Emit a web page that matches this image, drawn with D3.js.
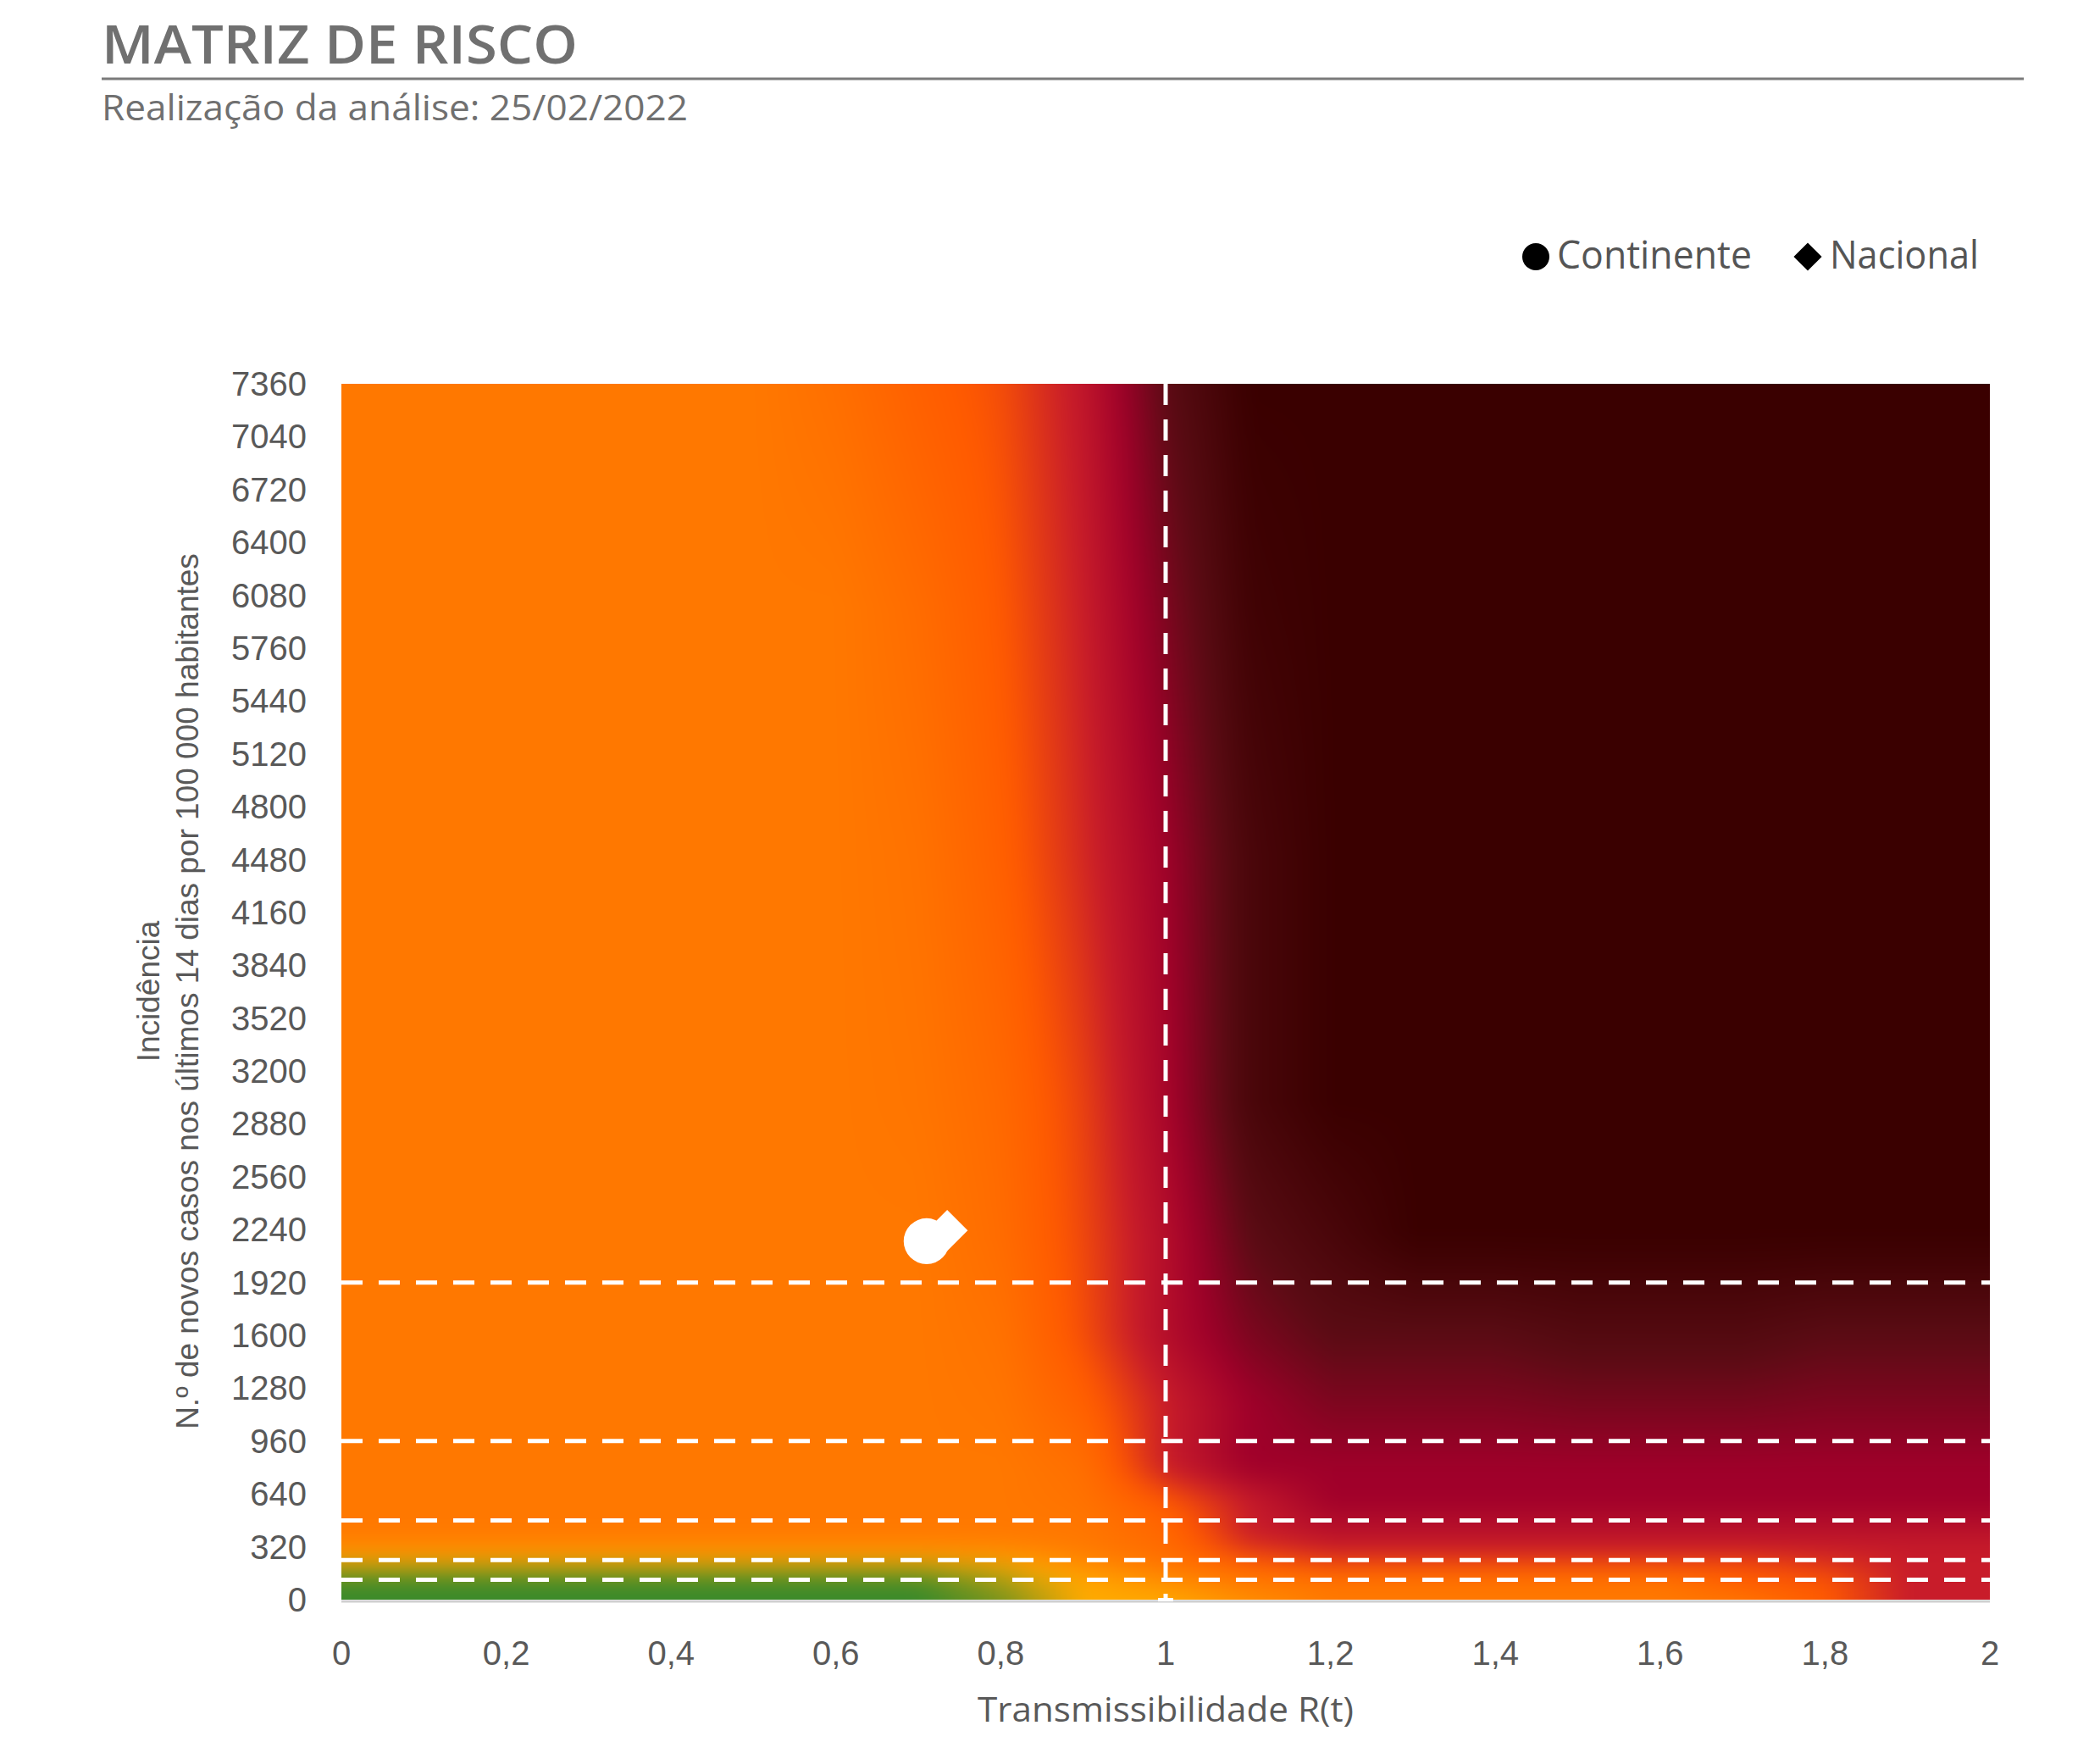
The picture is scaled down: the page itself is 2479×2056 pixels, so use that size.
<!DOCTYPE html>
<html><head><meta charset="utf-8">
<script src="https://cdn.jsdelivr.net/npm/d3@7"></script>
<style>body{margin:0;background:#fff}</style></head>
<body><svg id="c" width="2479" height="2056"></svg>
<script>
const xTicks=[0,0.2,0.4,0.6,0.8,1,1.2,1.4,1.6,1.8,2];
const yTicks=[0,320,640,960,1280,1600,1920,2240,2560,2880,3200,3520,3840,4160,4480,4800,5120,5440,5760,6080,6400,6720,7040,7360];
const thresholdsY=[120,240,480,960,1920];
const thresholdX=[1];
const gridX=[0,0.1,0.2,0.3,0.4,0.5,0.6,0.7,0.8,0.9,1.0,1.1,1.2,1.3,1.4,1.5,1.6,1.7,1.8,1.9,2.0];
const gridY=[0,100,200,300,400,600,800,1200,1600,2200,3000,4500,6000,7360];
const levels=[
[0,0,0,0,0,0,0,0,0.3,1,1,1.5,2,2,2,2,2,2,3,4,4],
[0,0,0,0,0,0,0,0,0.5,1,1.5,2,2,2,2,2,2,3,3,4,4],
[0.6,0.6,0.6,0.6,0.6,0.6,0.6,0.6,0.8,1.5,2,2.5,3,3,3,3,3,3,3.5,4,4],
[1.6,1.6,1.6,1.6,1.6,1.6,1.6,1.6,1.7,2,2.5,3.5,4,4,4,4,4,4,4,4,4],
[2,2,2,2,2,2,2,2,2,2,2.5,4,4.3,4.3,4.3,4.3,4.3,4.3,4.3,4.3,4.3],
[2,2,2,2,2,2,2,2,2,2.2,3,4,5,5,5,5,5,5,5,5,5],
[2,2,2,2,2,2,2,2,2,2.3,4,5,5,5,5,5,5,5,5,5,5],
[2,2,2,2,2,2,2,2,2.1,2.8,4,5,5.5,5.5,5.5,5.6,5.6,5.6,5.5,5.5,5.5],
[2,2,2,2,2,2,2,2,2.2,3.2,4.5,5.5,6,6,6,6.2,6.2,6.2,6,6,6],
[2,2,2,2,2,2,2,2,2.4,3.3,4.5,6,6.5,7,7,7,7,7,7,7,7],
[2,2,2,2,2,2,2,2.1,2.5,3.4,4.8,6.5,7,7,7,7,7,7,7,7,7],
[2,2,2,2,2,2,2,2.2,2.8,3.8,5,6.5,7,7,7,7,7,7,7,7,7],
[2,2,2,2,2,2,2,2.4,3,4,5.5,6.8,7,7,7,7,7,7,7,7,7],
[2,2,2,2,2,2,2.3,2.8,3.2,4.2,6,7,7,7,7,7,7,7,7,7,7]];
const levelColors=["#3a8a2a","#ffaa00","#ff7800","#ff5a00","#c81c2a","#a0002a","#5a0c14","#3a0000"];
const points=[{name:"Continente",r:0.71,inc:2170,shape:"circle"},{name:"Nacional",r:0.735,inc:2235,shape:"diamond"}];

const svg=d3.select("#c");
const L=403,R=2349,T=453,B=1888;
const x=d3.scaleLinear().domain([0,2]).range([L,R]);
const y=d3.scaleLinear().domain([0,7360]).range([B,T]);
const col=d3.scaleLinear().domain(d3.range(levelColors.length)).range(levelColors).interpolate(d3.interpolateRgb);

svg.append("text").attr("x",120).attr("y",75).text("MATRIZ DE RISCO").attr("font-family","Open Sans").attr("font-weight",600).attr("font-size",64).attr("fill","#707070").attr("textLength",562).attr("lengthAdjust","spacingAndGlyphs");
svg.append("line").attr("x1",120).attr("x2",2389).attr("y1",93).attr("y2",93).attr("stroke","#7a7a7a").attr("stroke-width",3);
svg.append("text").attr("x",120).attr("y",142).text("Realização da análise: 25/02/2022").attr("font-family","Open Sans").attr("font-size",42).attr("fill","#707070").attr("textLength",692).attr("lengthAdjust","spacingAndGlyphs");

const W=R-L,H=B-T,pad=60;
const cv=document.createElement("canvas");cv.width=W+2*pad;cv.height=H+2*pad;
const ctx=cv.getContext("2d");
const img=ctx.createImageData(cv.width,cv.height);
const colIdx=d3.scaleLinear().domain(gridX).range(d3.range(gridX.length)).clamp(true);
const rowIdx=d3.scaleLinear().domain(gridY).range(d3.range(gridY.length)).clamp(true);
const ci=[];for(let px=0;px<cv.width;px++)ci.push(colIdx(x.invert(L-pad+px)));
for(let py=0;py<cv.height;py++){
  const rf=rowIdx(y.invert(T-pad+py)),r0=Math.floor(rf),r1=Math.min(r0+1,gridY.length-1),ft=rf-r0;
  for(let px=0;px<cv.width;px++){
    const cf=ci[px],c0=Math.floor(cf),c1=Math.min(c0+1,gridX.length-1),fs=cf-c0;
    const v=(levels[r0][c0]*(1-fs)+levels[r0][c1]*fs)*(1-ft)+(levels[r1][c0]*(1-fs)+levels[r1][c1]*fs)*ft;
    const c=d3.rgb(col(v));const k=(py*cv.width+px)*4;
    img.data[k]=c.r;img.data[k+1]=c.g;img.data[k+2]=c.b;img.data[k+3]=255;
  }
}
ctx.putImageData(img,0,0);
const cv2=document.createElement("canvas");cv2.width=W;cv2.height=H;
const c2=cv2.getContext("2d");c2.filter="blur(14px)";c2.drawImage(cv,-pad,-pad);
svg.append("image").attr("x",L).attr("y",T).attr("width",W).attr("height",H).attr("href",cv2.toDataURL());

svg.append("line").attr("x1",L).attr("x2",R).attr("y1",B+2).attr("y2",B+2).attr("stroke","#d0d0d0").attr("stroke-width",3);
thresholdsY.forEach(t=>svg.append("line").attr("x1",L).attr("x2",R).attr("y1",y(t)).attr("y2",y(t)).attr("stroke","#fff").attr("stroke-width",5).attr("stroke-dasharray","25,19"));
thresholdX.forEach(t=>{
  svg.append("line").attr("x1",x(t)).attr("x2",x(t)).attr("y1",T).attr("y2",B).attr("stroke","#fff").attr("stroke-width",5).attr("stroke-dasharray","25,17");
  svg.append("line").attr("x1",x(t)-9).attr("x2",x(t)+9).attr("y1",B).attr("y2",B).attr("stroke","#fff").attr("stroke-width",4);
});
points.forEach(p=>{
  svg.append("path").attr("transform",`translate(${x(p.r)},${y(p.inc)})`)
   .attr("d",d3.symbol().type(p.shape==="circle"?d3.symbolCircle:d3.symbolDiamond2).size(p.shape==="circle"?2300:1500)()).attr("fill","#fff");
});
const tf="Liberation Sans";
svg.append("g").selectAll("text").data(yTicks).join("text").attr("x",362).attr("y",d=>y(d)+14).attr("text-anchor","end").text(d=>d).attr("font-family",tf).attr("font-size",40).attr("fill","#595959");
svg.append("g").selectAll("text").data(xTicks).join("text").attr("x",d=>x(d)).attr("y",1965).attr("text-anchor","middle").text(d=>String(d).replace(".",",")).attr("font-family",tf).attr("font-size",40).attr("fill","#595959");
svg.append("text").attr("x",x(1)).attr("y",2032).attr("text-anchor","middle").text("Transmissibilidade R(t)").attr("font-family","Open Sans").attr("font-size",40).attr("fill","#595959").attr("textLength",444).attr("lengthAdjust","spacingAndGlyphs");
const yt=svg.append("text").attr("transform","translate(0,1170) rotate(-90)").attr("text-anchor","middle").attr("font-family",tf).attr("font-size",37).attr("fill","#595959");
yt.append("tspan").attr("x",0).attr("y",188).text("Incidência");
yt.append("tspan").attr("x",0).attr("y",234).text("N.º de novos casos nos últimos 14 dias por 100 000 habitantes");
svg.append("circle").attr("cx",1813).attr("cy",303).attr("r",16).attr("fill","#000");
svg.append("text").attr("x",1838).attr("y",317).text("Continente").attr("font-family","Open Sans").attr("font-size",46).attr("fill","#555").attr("textLength",230).attr("lengthAdjust","spacingAndGlyphs");
svg.append("path").attr("transform","translate(2134,303)").attr("d",d3.symbol().type(d3.symbolDiamond2).size(700)()).attr("fill","#000");
svg.append("text").attr("x",2160).attr("y",317).text("Nacional").attr("font-family","Open Sans").attr("font-size",46).attr("fill","#555").attr("textLength",176).attr("lengthAdjust","spacingAndGlyphs");
</script></body></html>
